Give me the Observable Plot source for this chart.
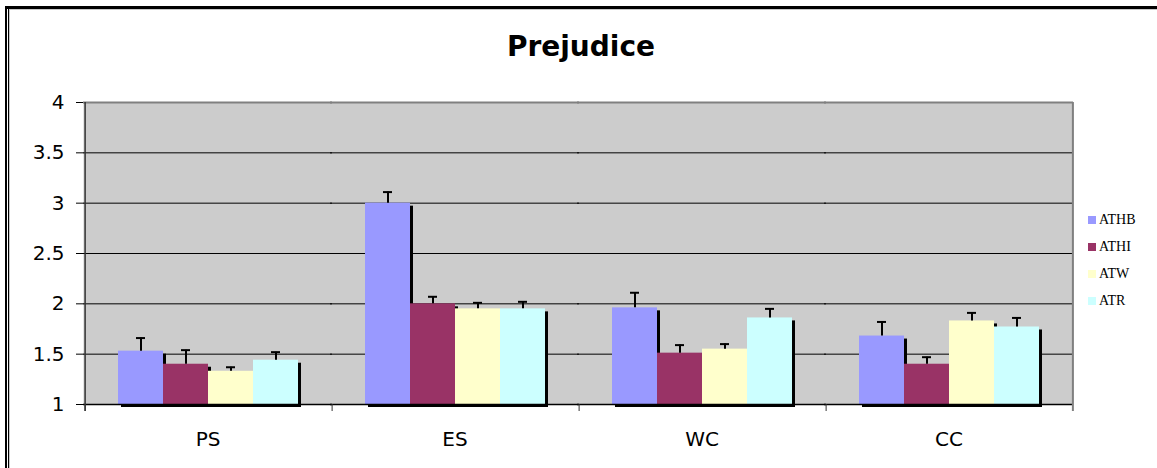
<!DOCTYPE html>
<html>
<head>
<meta charset="utf-8">
<script src="https://cdn.jsdelivr.net/npm/d3@7"></script>
<script src="https://cdn.jsdelivr.net/npm/@observablehq/plot@0.6"></script>
<style>
  html, body { margin: 0; padding: 0; background: #fff; width: 1157px; height: 468px; overflow: hidden; position: relative; }
  #outer { position: absolute; left: 5px; top: 6px; width: 1200px; height: 500px; border-top: 3px solid #000; border-left: 2px solid #000; box-sizing: border-box; }
  #innerL { position: absolute; left: 8px; top: 9px; width: 1px; height: 470px; background: #000; }
  #innerL2 { position: absolute; left: 9px; top: 9px; width: 1px; height: 470px; background: #c8c8c8; }
  #innerT { position: absolute; left: 9px; top: 9px; width: 1160px; height: 1px; background: #c8c8c8; }
  #title { position: absolute; left: 0; width: 1162px; top: 30px; text-align: center; font-family: "DejaVu Sans", sans-serif; font-weight: bold; font-size: 28px; color: #000; }
  #chart { position: absolute; left: 0; top: 80px; }
  #legend { position: absolute; left: 1088px; top: 206px; font-family: "Liberation Serif", serif; font-size: 14px; color: #000; }
  #legend .row { height: 27px; display: flex; align-items: center; }
  #legend .sw { width: 8px; height: 8px; margin-right: 3px; }
</style>
</head>
<body>
<div id="outer"></div>
<div id="innerL"></div>
<div id="innerL2"></div>
<div id="innerT"></div>
<div id="title">Prejudice</div>
<div id="chart"></div>
<div id="legend"></div>
<script>
const categories = ["PS", "ES", "WC", "CC"];
const seriesNames = ["ATHB", "ATHI", "ATW", "ATR"];
const seriesColors = ["#9999ff", "#993366", "#ffffcc", "#ccffff"];
const ATHB = [1.53, 3.00, 1.96, 1.68];
const ATHI = [1.40, 2.00, 1.51, 1.40];
const ATW  = [1.33, 1.95, 1.55, 1.83];
const ATR  = [1.44, 1.95, 1.86, 1.77];
const ATHB_err = [0.13, 0.11, 0.15, 0.14];
const ATHI_err = [0.14, 0.07, 0.08, 0.07];
const ATW_err  = [0.04, 0.06, 0.05, 0.08];
const ATR_err  = [0.08, 0.07, 0.09, 0.09];
const yTicks = [1, 1.5, 2, 2.5, 3, 3.5, 4];

const values = [ATHB, ATHI, ATW, ATR];
const errors = [ATHB_err, ATHI_err, ATW_err, ATR_err];
const data = [];
categories.forEach((c, ci) => {
  seriesNames.forEach((s, si) => {
    data.push({cat: c, series: s, base: 1, value: values[si][ci], top: values[si][ci] + errors[si][ci]});
  });
});

const W = 1081, H = 388, ML = 84, MR = 9, MT = 22, MB = 64;
const padOuter = 0.74;
const facetW = (W - ML - MR) / categories.length;
const step = facetW / (seriesNames.length + 2 * padOuter);
const edgeOffset = padOuter * step + step / 2;

const firstBand = categories.map(c => ({cat: c, series: seriesNames[0], lo: 1, hi: 1}));
const axisBand = [{cat: categories[0], series: seriesNames[0], lo: 1, hi: 4}];
const lastBand = [{cat: categories[categories.length - 1], series: seriesNames[seriesNames.length - 1], lo: 1, hi: 4}];

const chart = Plot.plot({
  width: W, height: H,
  marginLeft: ML, marginRight: MR, marginTop: MT, marginBottom: MB,
  style: {fontFamily: "DejaVu Sans, sans-serif", fontSize: "20px", color: "#000", background: "transparent", overflow: "visible"},
  fx: {domain: categories, padding: 0, axis: "bottom", tickSize: 0, tickPadding: 27, label: null},
  x: {domain: seriesNames, paddingInner: 0, paddingOuter: padOuter, axis: null},
  y: {domain: [1, 4], ticks: yTicks, tickFormat: d => String(d), tickSize: 8, tickPadding: 12, label: null},
  color: {domain: seriesNames, range: seriesColors},
  marks: [
    Plot.frame({fill: "#cccccc", stroke: "none", insetLeft: -1, insetRight: -1}),
    Plot.ruleY(yTicks.filter(t => t > 1 && t < 4), {stroke: "#000", strokeWidth: 1, insetLeft: -1, insetRight: -1}),
    Plot.ruleY([4], {stroke: "#808080", strokeWidth: 2, insetLeft: -1, insetRight: -1}),
    Plot.barY(data, {fx: "cat", x: "series", y1: "base", y2: "value", fill: "#000", dx: 3, dy: 3}),
    Plot.barY(data, {fx: "cat", x: "series", y1: "base", y2: "value", fill: "series"}),
    Plot.ruleX(data, {fx: "cat", x: "series", y1: "value", y2: "top", stroke: "#000", strokeWidth: 2}),
    Plot.tickY(data, {fx: "cat", x: "series", y: "top", stroke: "#000", strokeWidth: 2, insetLeft: 18, insetRight: 18}),
    Plot.ruleY([1], {stroke: "#000", strokeWidth: 1.5, insetLeft: -1, insetRight: -1}),
    Plot.ruleX(firstBand, {fx: "cat", x: "series", y1: "lo", y2: "hi", insetBottom: -7, dx: -edgeOffset, stroke: "#333", strokeWidth: 1}),
    Plot.ruleX(axisBand, {fx: "cat", x: "series", y1: "hi", y2: "lo", insetBottom: -7, dx: -edgeOffset, stroke: "#333", strokeWidth: 1.5}),
    Plot.ruleX(lastBand, {fx: "cat", x: "series", y1: "hi", y2: "lo", insetBottom: -7, dx: edgeOffset, stroke: "#808080", strokeWidth: 2})
  ]
});
document.getElementById("chart").appendChild(chart);

const legend = document.getElementById("legend");
seriesNames.forEach((s, i) => {
  const row = document.createElement("div");
  row.className = "row";
  const sw = document.createElement("div");
  sw.className = "sw";
  sw.style.background = seriesColors[i];
  const label = document.createElement("span");
  label.textContent = s;
  row.appendChild(sw);
  row.appendChild(label);
  legend.appendChild(row);
});
</script>
</body>
</html>
